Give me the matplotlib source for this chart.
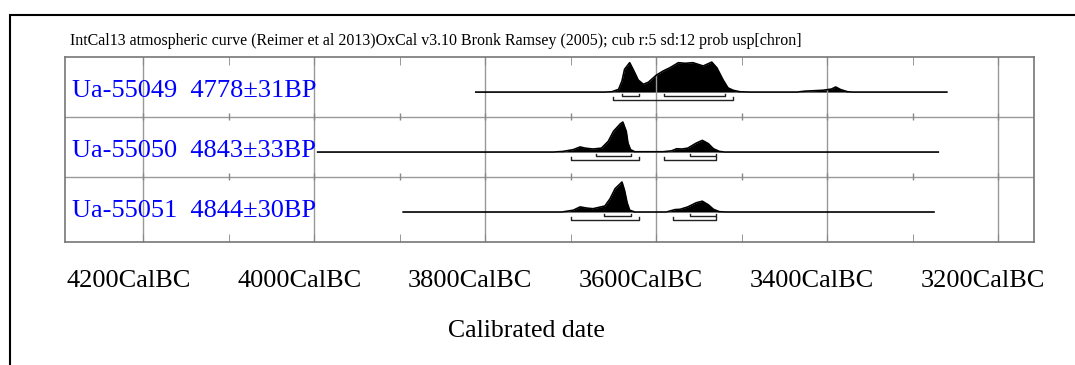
import numpy as np
import matplotlib
matplotlib.use('Agg')
import matplotlib.pyplot as plt
from matplotlib.transforms import ScaledTranslation, blended_transform_factory
from matplotlib.patches import Rectangle

plt.rcParams['font.family'] = ['Liberation Serif', 'DejaVu Serif']

title = ("IntCal13 atmospheric curve (Reimer et al 2013)OxCal v3.10 Bronk Ramsey (2005); "
         "cub r:5 sd:12 prob usp[chron]")
row_labels = ["Ua-55049  4778\u00b131BP", "Ua-55050  4843\u00b133BP", "Ua-55051  4844\u00b130BP"]

# calibrated years BC and relative probability (peak = 1)
years_1 = [3811, 3660, 3652, 3644, 3640, 3637, 3631, 3626, 3621, 3615, 3609, 3600, 3592,
           3584, 3574, 3566, 3557, 3545, 3535, 3529, 3522, 3516, 3510, 3502, 3490, 3435,
           3426, 3405, 3395, 3390, 3384, 3376, 3370, 3260]
prob_1 = [0, 0, 0.01, 0.09, 0.37, 0.76, 0.98, 0.70, 0.40, 0.26, 0.33, 0.56, 0.70,
          0.81, 0.98, 0.96, 0.98, 0.87, 1.0, 0.81, 0.42, 0.14, 0.06, 0.01, 0, 0,
          0.03, 0.06, 0.10, 0.17, 0.08, 0.01, 0, 0]

years_2 = [3996, 3720, 3709, 3697, 3689, 3683, 3674, 3664, 3656, 3650, 3642, 3639, 3635,
           3633, 3630, 3625, 3592, 3582, 3576, 3570, 3563, 3553, 3546, 3539, 3533, 3526,
           3520, 3270]
prob_2 = [0, 0, 0.02, 0.08, 0.17, 0.13, 0.10, 0.13, 0.36, 0.69, 0.94, 1.0, 0.69,
          0.30, 0.08, 0.01, 0.01, 0.04, 0.11, 0.10, 0.13, 0.30, 0.39, 0.28, 0.11, 0.02,
          0, 0]

years_3 = [3896, 3710, 3697, 3689, 3681, 3674, 3660, 3654, 3648, 3640, 3637, 3634, 3631,
           3625, 3588, 3578, 3572, 3563, 3553, 3546, 3539, 3533, 3526, 3518, 3275]
prob_3 = [0, 0, 0.06, 0.17, 0.13, 0.11, 0.20, 0.44, 0.78, 1.0, 0.72, 0.31, 0.06,
          0, 0, 0.08, 0.09, 0.17, 0.31, 0.36, 0.24, 0.09, 0.01, 0, 0]

# 68.2% and 95.4% ranges (from, to) in years BC
range68_1 = [(3640, 3620), (3591, 3520)]
range95_1 = [(3650, 3510)]
range68_2 = [(3670, 3630), (3560, 3530)]
range95_2 = [(3700, 3620), (3591, 3530)]
range68_3 = [(3661, 3630), (3560, 3530)]
range95_3 = [(3700, 3620), (3580, 3530)]

tick_years = [4200, 4000, 3800, 3600, 3400, 3200]
tick_labels = ["4200CalBC", "4000CalBC", "3800CalBC", "3600CalBC", "3400CalBC", "3200CalBC"]
minor_years = list(range(4200, 3199, -100))

W, H = 1075, 365
fig = plt.figure(figsize=(W / 100, H / 100), dpi=100)

# outer frame (only top and left edges fall inside the picture)
fig.patches.append(Rectangle((10 / W, -0.5), 2, 1 - 15 / H + 0.5, transform=fig.transFigure,
                             fill=False, ec='black', lw=1.5))
fig.text(70 / W, 1 - 45 / H, title, fontsize=11.5, va='baseline')

ax = fig.add_axes([65 / W, 1 - 242 / H, 969 / W, 185.3 / H])
ax.set_xlim(4291.6, 3158)
ax.set_ylim(3.09, 0)

for s in ax.spines.values():
    s.set_color('#777777')
    s.set_linewidth(1.2)

ax.set_xticks(tick_years)
ax.set_xticks(minor_years, minor=True)
ax.set_yticks([])
ax.tick_params(which='both', direction='in', top=True, bottom=True, length=6,
               color='#888888', labelbottom=False)
ax.grid(axis='x', which='major', color='#999999', lw=1.0)

for yb in [1, 2]:
    ax.axhline(yb, color='#999999', lw=1.0)
    ax.vlines(minor_years, yb - 0.06, yb + 0.06, color='#888888', lw=1.0)

rows = [(years_1, prob_1, range68_1, range95_1),
        (years_2, prob_2, range68_2, range95_2),
        (years_3, prob_3, range68_3, range95_3)]

for i, (yrs, pr, r68, r95) in enumerate(rows):
    base = i + 0.59
    yrs = np.array(yrs)
    top = base - 0.5 * np.array(pr)
    ax.fill_between(yrs, base, top, color='black', lw=0)
    ax.plot(yrs, top, color='black', lw=1.2)
    for ranges, off in [(r68, 0.065), (r95, 0.13)]:
        yy = base + off
        for a, b in ranges:
            ax.plot([a, a, b, b], [yy - 0.04, yy, yy, yy - 0.04], color='#222222', lw=1.0)
    tr = blended_transform_factory(ax.transAxes, ax.transData)
    ax.text(0.0075, i + 0.675, row_labels[i], transform=tr, color='#0000ff',
            fontsize=19, va='baseline', ha='left')

# tick labels under the axis
trx = blended_transform_factory(ax.transData, ax.transAxes)
shift = ScaledTranslation(-15 / 100, 0, fig.dpi_scale_trans)
for yr, lab in zip(tick_years, tick_labels):
    ax.text(yr, -45 / 185.3, lab, transform=trx + shift, ha='center', va='baseline',
            fontsize=19)

ax.text(0.4765, -(336.7 - 242) / 185.3, "Calibrated date", transform=ax.transAxes,
        ha='center', va='baseline', fontsize=18.5)

fig.savefig('out.png', dpi=100)
